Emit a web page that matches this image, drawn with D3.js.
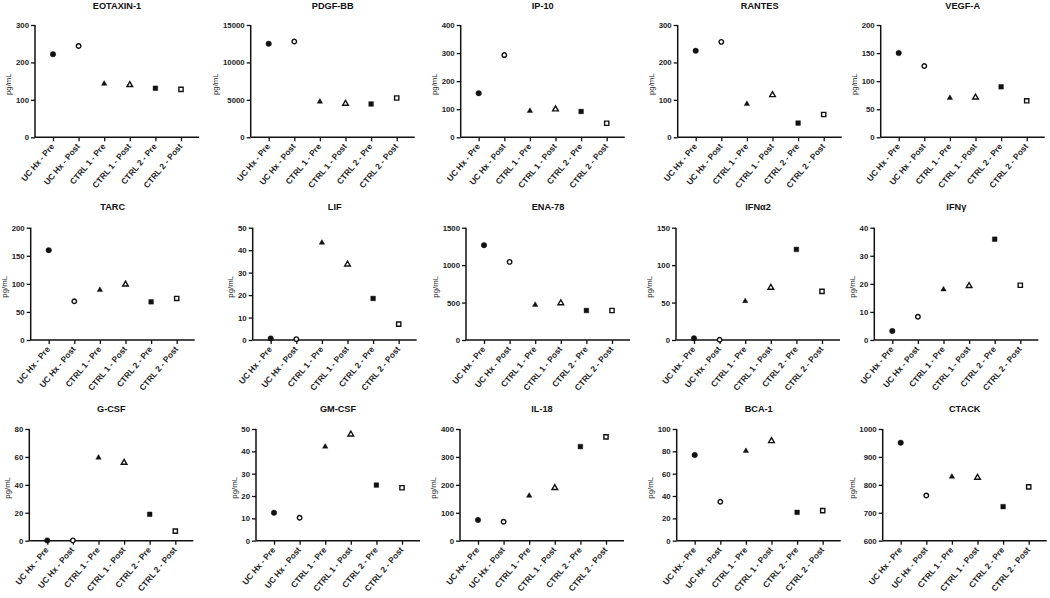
<!DOCTYPE html>
<html><head><meta charset="utf-8">
<script src="https://cdn.jsdelivr.net/npm/d3@7"></script>
<style>
html,body{margin:0;padding:0;background:#fff;}
svg{display:block;font-family:"Liberation Sans",Arial,sans-serif;}
</style></head>
<body><svg id="c" width="1050" height="598"></svg>
<script>
// ---------- data ----------
const categories = ["UC Hx - Pre","UC Hx - Post","CTRL 1 - Pre","CTRL 1 - Post","CTRL 2 - Pre","CTRL 2 - Post"];
const titles = ["EOTAXIN-1","PDGF-BB","IP-10","RANTES","VEGF-A","TARC","LIF","ENA-78","IFNα2","IFNγ","G-CSF","GM-CSF","IL-18","BCA-1","CTACK"];
const eotaxin1 = [222, 244, 143, 140, 131, 128];
const pdgfBB   = [12500, 12800, 4750, 4500, 4450, 5250];
const ip10     = [157, 293, 94, 100, 92, 50];
const rantes   = [231, 255, 89, 113, 38, 61];
const vegfA    = [150, 127, 70, 71, 90, 65];
const tarc     = [160, 69, 89, 99, 68, 74];
const lif      = [0.7, 0.4, 43.3, 33.7, 18.5, 7.1];
const ena78    = [1267, 1043, 470, 493, 394, 394];
const ifna2    = [2.2, 0.3, 52, 70, 121, 65];
const ifng     = [3.2, 8.3, 18, 19.3, 35.9, 19.5];
const gcsf     = [0.2, 0.2, 59.5, 55.9, 18.9, 6.9];
const gmcsf    = [12.5, 10.3, 42.1, 47.6, 24.9, 23.7];
const il18     = [74, 68, 161, 189, 337, 372];
const bca1     = [76.7, 34.9, 80.3, 89.3, 25.4, 26.9];
const ctack    = [951, 762, 829, 826, 722, 793];
const ticks1  = [0,100,200,300];
const ticks2  = [0,5000,10000,15000];
const ticks3  = [0,100,200,300,400];
const ticks4  = [0,100,200,300];
const ticks5  = [0,50,100,150,200];
const ticks6  = [0,50,100,150,200];
const ticks7  = [0,10,20,30,40,50];
const ticks8  = [0,500,1000,1500];
const ticks9  = [0,50,100,150];
const ticks10 = [0,10,20,30,40];
const ticks11 = [0,20,40,60,80];
const ticks12 = [0,10,20,30,40,50];
const ticks13 = [0,100,200,300,400];
const ticks14 = [0,20,40,60,80,100];
const ticks15 = [600,700,800,900,1000];
const yLabel = "pg/mL";

const seriesList = [eotaxin1,pdgfBB,ip10,rantes,vegfA,tarc,lif,ena78,ifna2,ifng,gcsf,gmcsf,il18,bca1,ctack];
const tickList = [ticks1,ticks2,ticks3,ticks4,ticks5,ticks6,ticks7,ticks8,ticks9,ticks10,ticks11,ticks12,ticks13,ticks14,ticks15];

// ---------- layout (pixel geometry of each panel) ----------
const axisX = [35,250.7,460.7,677.7,880.7, 30.7,252.7,466,676,874.3, 29.3,256,460,676.7,882.7];
const rowTop = [25, 227.7, 429];
const rowBot = [137.3, 340, 540.7];
const titleY = [8.5, 210, 411.5];
const firstOff = 18, step = 25.6, endPad = 18;

const svg = d3.select("#c");
const FONT = '"Liberation Sans",Arial,sans-serif';
const INK = "#111";

const shapes = [
  {type:d3.symbolCircle, size:24, fill:true},
  {type:d3.symbolCircle, size:16, fill:false},
  {type:d3.symbolTriangle, size:13, fill:true},
  {type:d3.symbolTriangle, size:14, fill:false},
  {type:d3.symbolSquare, size:22, fill:true},
  {type:d3.symbolSquare, size:18, fill:false}
];

seriesList.forEach((vals, p) => {
  const row = Math.floor(p/5);
  const ticks = tickList[p];
  const x0 = axisX[p];
  const x1 = x0 + firstOff + step*(categories.length-1) + endPad;
  const x = d3.scalePoint().domain(categories)
     .range([x0 + firstOff, x0 + firstOff + step*(categories.length-1)]);
  const y = d3.scaleLinear().domain([ticks[0], ticks[ticks.length-1]]).range([rowBot[row], rowTop[row]]);
  const g = svg.append("g");

  // y axis
  const ya = g.append("g").attr("transform",`translate(${x0},0)`)
    .call(d3.axisLeft(y).tickValues(ticks).tickSize(4).tickPadding(2).tickFormat(d3.format("d")));
  ya.select(".domain").attr("d",`M0,${rowTop[row]}V${rowBot[row]}`).attr("stroke",INK).attr("stroke-width",1.5);
  ya.selectAll(".tick line").attr("stroke",INK).attr("stroke-width",1.3);
  ya.selectAll(".tick text").attr("font-family",FONT).attr("font-size",7.8).attr("font-weight","bold").attr("fill","#222");

  // x axis
  const xa = g.append("g").attr("transform",`translate(0,${rowBot[row]})`)
    .call(d3.axisBottom(x).tickSize(4).tickFormat(""));
  xa.select(".domain").attr("d",`M${x0},0H${x1}`).attr("stroke",INK).attr("stroke-width",1.5);
  xa.selectAll(".tick line").attr("stroke",INK).attr("stroke-width",1.3);
  xa.selectAll(".tick").append("text")
    .attr("transform","translate(-1,7.5) rotate(-50)")
    .attr("text-anchor","end").attr("dy","0.35em")
    .attr("font-family",FONT).attr("font-size",8.4).attr("font-weight","bold").attr("fill","#222")
    .text(d=>d);

  // max tick label width
  let maxW = 0;
  ya.selectAll(".tick text").each(function(){ maxW = Math.max(maxW, this.getComputedTextLength()); });

  // y label
  const ym = (rowTop[row]+rowBot[row])/2 + 3;
  g.append("text")
    .attr("transform",`translate(${x0 - 6 - maxW - 7.5},${ym}) rotate(-90)`)
    .attr("text-anchor","middle").attr("dy","0.35em")
    .attr("font-family",FONT).attr("font-size",7.8).attr("fill","#222")
    .text(yLabel);

  // title
  g.append("text").attr("x",(x0+x1)/2).attr("y",titleY[row])
    .attr("text-anchor","middle").attr("font-family",FONT).attr("font-size",9.2).attr("font-weight","bold").attr("fill","#111")
    .text(titles[p]);

  // points
  g.selectAll("path.pt").data(vals).join("path").attr("class","pt")
    .attr("transform",(d,i)=>`translate(${x(categories[i])},${y(d)})`)
    .attr("d",(d,i)=>d3.symbol().type(shapes[i].type).size(shapes[i].size)())
    .attr("fill",(d,i)=>shapes[i].fill?INK:"#fff")
    .attr("stroke",INK)
    .attr("stroke-width",(d,i)=>shapes[i].fill?0.4:1.4);
});
</script></body></html>
